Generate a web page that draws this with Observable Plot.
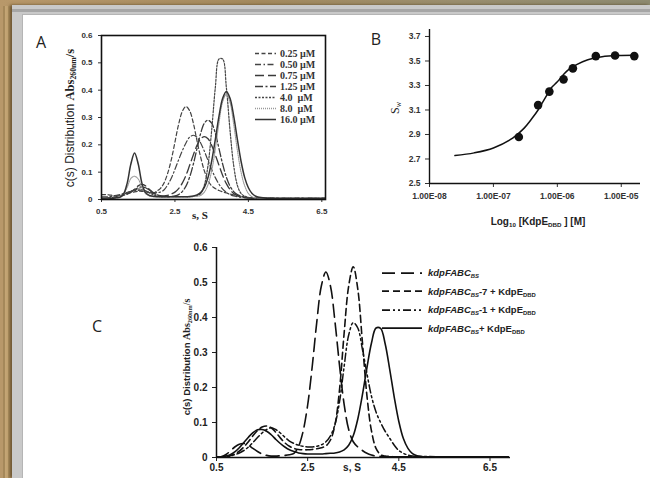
<!DOCTYPE html>
<html><head><meta charset="utf-8">
<script src="https://cdn.jsdelivr.net/npm/d3@7"></script>
<script src="https://cdn.jsdelivr.net/npm/@observablehq/plot@0.6"></script>
<style>
body{margin:0;}
#page{position:relative;width:650px;height:478px;overflow:hidden;
  background:repeating-linear-gradient(90deg,#b8986a 0 3px,#a5885a 3px 5px,#c4a574 5px 8px,#ad8f60 8px 11px);
  font-family:"Liberation Sans",Arial,sans-serif;color:#222;}
#woodTop{position:absolute;left:0;top:0;width:650px;height:6px;
  background:linear-gradient(90deg,#b8986a,#a48a5e 40%,#9a8e6e 70%,#8d8a70);}
#frame{position:absolute;left:12px;top:5px;right:0;bottom:0;background:#c9c9c9;
  box-shadow:-2px 0 3px rgba(70,50,20,0.7);}
#frameTopLine{position:absolute;left:12px;top:9px;right:0;height:3px;background:#a6a6a6;}
#white{position:absolute;left:22px;top:14px;right:0;bottom:0;background:#fff;border-left:1px solid #b5b5b5;border-top:1px solid #b5b5b5;}
.abs{position:absolute;}
.rot{position:absolute;transform:translate(-50%,-50%) rotate(-90deg);white-space:nowrap;}
.ctr{position:absolute;transform:translate(-50%,-50%);white-space:nowrap;}
.serif{font-family:"Liberation Serif","Times New Roman",serif;}
.sub{font-size:0.62em;vertical-align:-0.3em;}
.panelLetter{position:absolute;font-family:"Open Sans","DejaVu Sans",sans-serif;font-size:16px;color:#222;transform:translate(-50%,-50%);}
.legRow{position:absolute;display:flex;align-items:center;white-space:pre;transform:translateY(-50%);}
</style></head><body>
<div id="page">
  <div id="woodTop"></div>
  <div id="frame"></div>
  <div id="frameTopLine"></div>
  <div id="white"></div>
</div>
<script>
// ---------- Panel A data: c(s) distributions at several KdpE_DBD concentrations ----------
const sA = [0.5,0.6,0.7,0.8,0.9,1.0,1.1,1.2,1.3,1.4,1.5,1.6,1.7,1.8,1.9,2.0,2.1,2.2,2.3,2.4,2.5,2.6,2.7,2.8,2.9,3.0,3.1,3.2,3.3,3.4,3.5,3.6,3.7,3.8,3.9,4.0,4.1,4.2,4.3,4.4,4.5,4.6,4.7,4.8,4.9,5.0,5.5,6.0,6.6];
const a025 = [0.018,0.018,0.017,0.015,0.013,0.012,0.015,0.02,0.025,0.028,
  0.03,0.03,0.028,0.025,0.022,0.03,0.04,0.06,0.095,0.145,
  0.21,0.275,0.322,0.34,0.325,0.28,0.215,0.155,0.105,0.07,
  0.05,0.04,0.033,0.028,0.024,0.02,0.017,0.014,0.011,0.009,
  0.007,0.006,0.005,0.005,0.005,0.005,0.004,0.004,0.004];
const a050 = [0.01,0.01,0.01,0.012,0.015,0.018,0.022,0.026,0.03,0.032,
  0.033,0.032,0.03,0.027,0.025,0.025,0.027,0.035,0.053,0.078,
  0.11,0.145,0.178,0.207,0.228,0.235,0.228,0.207,0.177,0.143,
  0.11,0.08,0.056,0.038,0.026,0.018,0.013,0.01,0.008,0.007,
  0.006,0.005,0.005,0.005,0.005,0.005,0.004,0.004,0.004];
const a075 = [0.005,0.005,0.006,0.008,0.01,0.013,0.016,0.02,0.027,0.038,
  0.05,0.055,0.05,0.038,0.026,0.018,0.014,0.013,0.015,0.02,
  0.027,0.04,0.06,0.088,0.125,0.163,0.198,0.222,0.23,0.222,
  0.198,0.163,0.125,0.088,0.058,0.036,0.022,0.014,0.009,0.007,
  0.006,0.005,0.005,0.005,0.005,0.005,0.004,0.004,0.004];
const a125 = [0.005,0.005,0.006,0.008,0.01,0.013,0.017,0.022,0.028,0.036,
  0.043,0.046,0.043,0.035,0.025,0.018,0.013,0.011,0.01,0.011,
  0.013,0.018,0.029,0.049,0.082,0.129,0.186,0.242,0.279,0.29,
  0.279,0.242,0.186,0.129,0.082,0.049,0.029,0.018,0.012,0.009,
  0.007,0.006,0.005,0.005,0.005,0.005,0.004,0.004,0.004];
const a40 = [0,0,0.002,0.004,0.008,0.012,0.018,0.025,0.03,0.035,
  0.038,0.037,0.032,0.025,0.018,0.013,0.01,0.01,0.01,0.01,
  0.01,0.01,0.01,0.01,0.01,0.011,0.014,0.022,0.052,0.124,
  0.253,0.41,0.514,0.514,0.41,0.253,0.124,0.052,0.022,0.012,
  0.008,0.006,0.005,0.005,0.005,0.005,0.004,0.004,0.004];
const a80 = [0,0,0.002,0.004,0.007,0.012,0.02,0.045,0.077,0.085,
  0.075,0.045,0.022,0.013,0.01,0.01,0.01,0.01,0.01,0.01,
  0.01,0.01,0.01,0.01,0.01,0.011,0.012,0.015,0.027,0.054,
  0.105,0.185,0.28,0.358,0.385,0.355,0.275,0.18,0.1,0.05,
  0.022,0.01,0.006,0.005,0.005,0.005,0.004,0.004,0.004];
const a160 = [0,0,0.002,0.004,0.006,0.008,0.02,0.06,0.13,0.17,
  0.13,0.06,0.025,0.015,0.012,0.01,0.01,0.01,0.01,0.01,
  0.01,0.01,0.01,0.01,0.011,0.013,0.017,0.025,0.044,0.08,
  0.14,0.22,0.305,0.37,0.395,0.37,0.305,0.22,0.14,0.08,
  0.043,0.022,0.012,0.008,0.006,0.005,0.004,0.004,0.004];
const legendA = ["0.25 µM","0.50 µM","0.75 µM","1.25 µM","4.0  µM","8.0  µM","16.0 µM"];
const ticksAx = [0.5,2.5,4.5,6.5];
const tickLabelsAx = ["0.5","2.5","4.5","6.5"];
const ticksAy = [0,0.1,0.2,0.3,0.4,0.5,0.6];
const tickLabelsAy = ["0","0.1","0.2","0.3","0.4","0.5","0.6"];

// ---------- Panel B data: weight-average s vs [KdpE_DBD] ----------
const bConc = [2.5e-7,5e-7,7.5e-7,1.25e-6,1.75e-6,4e-6,8e-6,1.6e-5];
const bSw = [2.88,3.14,3.25,3.35,3.44,3.54,3.545,3.54];
const fitConc = [2.5e-8,5e-8,1e-7,2e-7,3e-7,4e-7,5e-7,6e-7,7e-7,8e-7,1e-6,1.25e-6,1.5e-6,2e-6,3e-6,5e-6,1e-5,1.6e-5];
const fitSw = [2.728,2.75,2.79,2.87,2.95,3.03,3.10,3.17,3.23,3.28,3.33,3.39,3.43,3.47,3.51,3.535,3.545,3.547];
const ticksBx = [1e-8,1e-7,1e-6,1e-5];
const tickLabelsBx = ["1.00E-08","1.00E-07","1.00E-06","1.00E-05"];
const ticksBy = [2.5,2.7,2.9,3.1,3.3,3.5,3.7];
const tickLabelsBy = ["2.5","2.7","2.9","3.1","3.3","3.5","3.7"];

// ---------- Panel C data: kdpFABC_BS DNA fragments with/without KdpE_DBD ----------
const sC = [0.5,0.6,0.7,0.8,0.9,1.0,1.1,1.2,1.3,1.4,1.5,1.6,1.7,1.8,1.9,2.0,2.1,2.2,2.3,2.4,2.5,2.6,2.7,2.8,2.9,3.0,3.1,3.2,3.3,3.4,3.5,3.6,3.7,3.8,3.9,4.0,4.1,4.2,4.3,4.4,4.5,4.6,4.7,4.8,4.9,5.0,5.5,6.0,6.9];
const cDNA = [0,0.002,0.008,0.018,0.03,0.038,0.04,0.035,0.026,0.017,
  0.01,0.006,0.004,0.004,0.005,0.006,0.008,0.012,0.032,0.075,
  0.15,0.26,0.387,0.49,0.53,0.49,0.387,0.262,0.152,0.08,
  0.045,0.03,0.02,0.012,0.007,0.004,0.003,0.002,0.002,0.002,
  0.002,0.002,0.002,0.002,0.002,0.002,0.002,0.002,0.002];
const c7 = [0,0,0.002,0.005,0.01,0.018,0.03,0.045,0.062,0.077,
  0.087,0.09,0.085,0.072,0.056,0.042,0.032,0.026,0.023,0.022,
  0.022,0.023,0.025,0.028,0.033,0.05,0.094,0.195,0.355,0.49,
  0.545,0.481,0.331,0.177,0.076,0.026,0.008,0.004,0.003,0.002,
  0.002,0.002,0.002,0.002,0.002,0.002,0.002,0.002,0.002];
const c1 = [0,0,0.002,0.004,0.008,0.013,0.02,0.03,0.043,0.057,
  0.07,0.08,0.085,0.08,0.07,0.058,0.047,0.04,0.035,0.032,
  0.03,0.03,0.032,0.036,0.045,0.062,0.095,0.16,0.26,0.35,
  0.385,0.37,0.31,0.24,0.175,0.13,0.1,0.075,0.055,0.035,
  0.02,0.012,0.007,0.004,0.003,0.003,0.002,0.002,0.002];
const cWT = [0.002,0.002,0.004,0.008,0.016,0.028,0.043,0.058,0.071,0.079,
  0.08,0.075,0.065,0.052,0.04,0.03,0.022,0.017,0.013,0.011,
  0.01,0.01,0.01,0.01,0.011,0.012,0.013,0.016,0.022,0.035,
  0.062,0.11,0.178,0.256,0.327,0.37,0.369,0.325,0.252,0.172,
  0.103,0.054,0.026,0.011,0.005,0.003,0.002,0.002,0.002];
const ticksCx = [0.5,2.5,4.5,6.5];
const tickLabelsCx = ["0.5","2.5","4.5","6.5"];
const ticksCy = [0,0.1,0.2,0.3,0.4,0.5,0.6];
const tickLabelsCy = ["0","0.1","0.2","0.3","0.4","0.5","0.6"];
const legendCmain = ["kdpFABC","kdpFABC","kdpFABC","kdpFABC"];
const legendCsuffix = ["","-7 + KdpE","-1 + KdpE","+ KdpE"];

// ---------- styles ----------
const seriesA = [a025,a050,a075,a125,a40,a80,a160];
const dashA = ["4,2.5","6,2.5,1.5,2.5","9,4","8,2.5,2,2.5","2,1.5","1,1",null];
const colorA = ["#444","#444","#3a3a3a","#3a3a3a","#444","#999","#333"];
const widthA = [1.2,1.2,1.3,1.3,1.2,1.1,1.5];
const seriesC = [cDNA,c7,c1,cWT];
const dashC = ["13,6","7,4","8,3,2,3,2,3",null];
const widthC = [1.6,1.6,1.5,1.6];

const page = document.getElementById("page");
function place(el, left, top){ const d=document.createElement("div"); d.className="abs"; d.style.left=left+"px"; d.style.top=top+"px"; d.appendChild(el); page.appendChild(d); }
function html(cls, left, top, inner, style){ const d=document.createElement("div"); d.className=cls; d.style.left=left+"px"; d.style.top=top+"px"; d.innerHTML=inner; if(style) d.style.cssText+=style; page.appendChild(d); return d; }
const toRows = (xs, ys) => xs.map((s,i)=>({s, v: ys[i]}));
const lookup = (ticks, labels) => d => { const i = ticks.findIndex(t => Math.abs(t - d) <= Math.abs(t) * 1e-9 + 1e-12); return i < 0 ? "" : labels[i]; };

// ---------- Panel A ----------
const plotA = Plot.plot({
  width: 300, height: 210, marginLeft: 61, marginRight: 15, marginTop: 10, marginBottom: 36,
  style: {fontSize:"8px", fontWeight:"bold", fontFamily:"Liberation Sans, Arial, sans-serif", color:"#333", background:"transparent", overflow:"visible"},
  x: {domain:[0.5,6.6], label: null},
  y: {domain:[0,0.6], label: null},
  marks: [
    Plot.axisX({ticks: ticksAx, tickFormat: lookup(ticksAx, tickLabelsAx), tickSize: 3, label: null}),
    Plot.axisY({ticks: ticksAy, tickFormat: lookup(ticksAy, tickLabelsAy), tickSize: 3, label: null}),
    ...seriesA.map((ys,k)=>Plot.line(toRows(sA,ys), {x:"s", y:"v", curve:"catmull-rom", clip:true,
      stroke: colorA[k], strokeWidth: widthA[k], strokeDasharray: dashA[k] || undefined})),
    Plot.frame({stroke:"#111", strokeWidth:1.6})
  ]
});
place(plotA, 40, 25);

// ---------- Panel B ----------
const plotB = Plot.plot({
  width: 305, height: 200, marginLeft: 84, marginRight: 10, marginTop: 15, marginBottom: 31,
  style: {fontSize:"8.5px", fontWeight:"bold", fontFamily:"Liberation Sans, Arial, sans-serif", color:"#333", background:"transparent", overflow:"visible"},
  x: {type:"log", domain:[1e-8,2e-5], label: null},
  y: {domain:[2.5,3.757], label: null},
  marks: [
    Plot.axisX({ticks: ticksBx, tickFormat: lookup(ticksBx, tickLabelsBx), tickSize: 4, tickPadding: 5, label: null}),
    Plot.axisY({ticks: ticksBy, tickFormat: lookup(ticksBy, tickLabelsBy), tickSize: 4, label: null}),
    Plot.ruleX([1e-8], {stroke:"#111", strokeWidth:1.4}),
    Plot.ruleY([2.5], {stroke:"#111", strokeWidth:1.4}),
    Plot.line(toRows(fitConc, fitSw), {x:"s", y:"v", curve:"catmull-rom", stroke:"#111", strokeWidth:1.5}),
    Plot.dot(toRows(bConc, bSw), {x:"s", y:"v", r:4.3, fill:"#111", stroke:"none"})
  ]
});
place(plotB, 345, 14);

// ---------- Panel C ----------
const plotC = Plot.plot({
  width: 370, height: 241, marginLeft: 66, marginRight: 10, marginTop: 10, marginBottom: 21,
  style: {fontSize:"10px", fontWeight:"bold", fontFamily:"Liberation Sans, Arial, sans-serif", color:"#222", background:"transparent", overflow:"visible"},
  x: {domain:[0.5,6.95], label: null},
  y: {domain:[0,0.6], label: null},
  marks: [
    Plot.axisX({ticks: ticksCx, tickFormat: lookup(ticksCx, tickLabelsCx), tickSize: 4, tickPadding: 2, label: null}),
    Plot.axisY({ticks: ticksCy, tickFormat: lookup(ticksCy, tickLabelsCy), tickSize: 4, label: null}),
    ...seriesC.map((ys,k)=>Plot.line(toRows(sC,ys), {x:"s", y:"v", curve:"catmull-rom", clip:true,
      stroke:"#111", strokeWidth: widthC[k], strokeDasharray: dashC[k] || undefined})),
    Plot.ruleX([0.5], {stroke:"#111", strokeWidth:1.5}),
    Plot.ruleY([0], {stroke:"#111", strokeWidth:1.5})
  ]
});
place(plotC, 150, 237);

// ---------- Text: panel letters, axis titles ----------
html("panelLetter", 41, 42, "A");
html("panelLetter", 376, 39, "B");
html("panelLetter", 97, 326, "C");

html("rot", 69, 118, '<span style="font-size:12px">c(s) Distribution </span><span class="serif" style="font-size:12.5px;font-weight:bold">Abs<span class="sub">260nm</span>/s</span>');
html("ctr serif", 200, 215, "s, S", "font-size:11px;font-weight:bold;");

html("rot", 394, 108, '<span class="serif" style="font-size:12px;">S<span class="sub">w</span></span>');
html("ctr", 538, 222, 'Log<span class="sub">10</span> [KdpE<span class="sub">DBD</span> ] [M]', "font-size:10px;font-weight:bold;");

html("rot", 185, 357, '<span style="font-size:9.5px;font-weight:bold">c(s) Distribution </span><span class="serif" style="font-size:10px;font-weight:bold">Abs<span class="sub">260nm</span>/s</span>');
html("ctr", 352, 467, "s, S", "font-size:10px;font-weight:bold;");

// ---------- Legend A ----------
legendA.forEach((t,k)=>{
  html("legRow", 255, 53 + k*11,
    `<svg width="21" height="4" style="margin-right:4px"><line x1="0" y1="2" x2="21" y2="2" stroke="${colorA[k]}" stroke-width="${widthA[k]+0.2}" ${dashA[k]?`stroke-dasharray="${dashA[k]}"`:""}/></svg><span class="serif" style="font-size:10px;font-weight:bold;color:#333">${t}</span>`);
});

// ---------- Legend C ----------
legendCmain.forEach((t,k)=>{
  const suffix = legendCsuffix[k] ? `<span style="font-style:normal">${legendCsuffix[k]}<span class="sub">DBD</span></span>` : "";
  html("legRow", 382, 273 + k*18.5,
    `<svg width="40" height="4" style="margin-right:6px"><line x1="0" y1="2" x2="40" y2="2" stroke="#111" stroke-width="${widthC[k]+0.3}" ${dashC[k]?`stroke-dasharray="${dashC[k]}"`:""}/></svg><span style="font-size:9.5px;font-weight:bold;color:#222"><i>${t}<span class="sub">BS</span></i>${suffix}</span>`);
});
</script>
</body></html>
